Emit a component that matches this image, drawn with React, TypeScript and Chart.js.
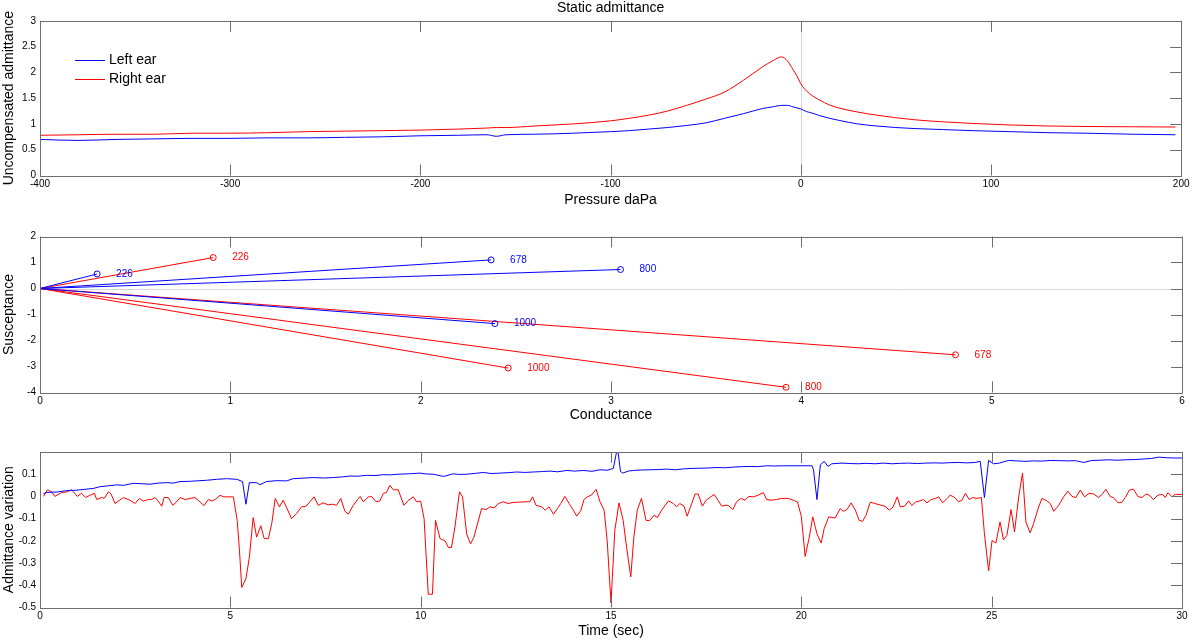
import React, { useEffect, useRef } from 'react'
import { Chart, registerables } from 'chart.js'

Chart.register(...registerables)

const FONT = "'Liberation Sans', Arial, Helvetica, sans-serif"
const RED = '#ff0000'
const BLUE = '#0000ff'
const FRAME = '#6e6e6e'

// --- Static admittance (tympanogram) ---
const pressure = [
  -400, -380, -360, -340, -320, -300, -280, -260, -240, -220,
  -200, -180, -165, -160, -155, -140, -120, -100, -90, -80,
  -70, -60, -50, -40, -30, -20, -15, -10, -7, -4,
  -2, 0, 3, 6, 10, 15, 20, 30, 40, 50,
  60, 75, 90, 110, 130, 150, 175, 197,
]
const leftEar = [
  0.70, 0.68, 0.70, 0.71, 0.72, 0.72, 0.73, 0.73, 0.74, 0.75,
  0.77, 0.78, 0.79, 0.76, 0.79, 0.80, 0.82, 0.85, 0.87, 0.90,
  0.93, 0.97, 1.02, 1.11, 1.20, 1.30, 1.33, 1.36, 1.36, 1.33,
  1.31, 1.29, 1.24, 1.21, 1.16, 1.11, 1.07, 1.00, 0.96, 0.93,
  0.91, 0.89, 0.87, 0.85, 0.83, 0.82, 0.80, 0.79,
]
const rightEar = [
  0.78, 0.79, 0.80, 0.80, 0.82, 0.82, 0.83, 0.85, 0.86, 0.87,
  0.88, 0.90, 0.92, 0.93, 0.93, 0.96, 1.00, 1.06, 1.11, 1.17,
  1.25, 1.36, 1.48, 1.62, 1.85, 2.11, 2.22, 2.30, 2.22, 2.05,
  1.93, 1.78, 1.64, 1.55, 1.46, 1.37, 1.31, 1.23, 1.17, 1.12,
  1.08, 1.04, 1.01, 0.98, 0.96, 0.95, 0.945, 0.94,
]
const pressureTicks = [-400, -300, -200, -100, 0, 100, 200]
const admittanceTicks = [0, 0.5, 1, 1.5, 2, 2.5, 3]

// --- Conductance / susceptance vectors ---
const frequencies = ['226', '678', '800', '1000']
const leftConductance = [0.30, 2.37, 3.05, 2.39]
const leftSusceptance = [0.56, 1.10, 0.73, -1.35]
const rightConductance = [0.91, 4.81, 3.92, 2.46]
const rightSusceptance = [1.19, -2.55, -3.80, -3.06]
const conductanceTicks = [0, 1, 2, 3, 4, 5, 6]
const susceptanceTicks = [-4, -3, -2, -1, 0, 1, 2]

// --- Admittance variation over time ---
const blueTime = [
  0.09, 0.17, 0.45, 0.7, 0.95, 1.23, 1.4, 1.58, 1.8, 2.01, 2.2, 2.45, 2.7, 2.89, 3.1, 3.33, 3.5, 3.68, 3.95, 4.2,
  4.4, 4.64, 4.9, 5.17, 5.32, 5.41, 5.5, 5.69, 5.78, 5.95, 6.22, 6.48, 6.65, 6.9, 7.18, 7.45, 7.71, 7.95, 8.14, 8.35,
  8.58, 8.8, 9.02, 9.2, 9.41, 9.7, 9.98, 10.15, 10.33, 10.6, 10.86, 11.0, 11.21, 11.45, 11.65, 11.85, 12.08, 12.3, 12.52, 12.75,
  12.96, 13.2, 13.4, 13.6, 13.84, 14.05, 14.27, 14.5, 14.71, 14.9, 15.06, 15.17, 15.25, 15.31, 15.45, 15.59, 15.8, 16.02, 16.25, 16.46,
  16.7, 16.9, 17.1, 17.34, 17.55, 17.78, 18.0, 18.21, 18.45, 18.65, 18.85, 19.09, 19.3, 19.53, 19.75, 19.96, 20.15, 20.28, 20.32, 20.41,
  20.5, 20.6, 20.7, 20.8, 21.07, 21.3, 21.5, 21.7, 21.94, 22.15, 22.38, 22.6, 22.82, 23.05, 23.26, 23.5, 23.69, 23.9, 24.13, 24.35,
  24.57, 24.7, 24.81, 24.92, 25.05, 25.2, 25.44, 25.65, 25.88, 26.1, 26.32, 26.55, 26.76, 27.0, 27.2, 27.42, 27.63, 27.85, 28.07, 28.3,
  28.51, 28.75, 28.95, 29.2, 29.39, 29.6, 29.82, 30.0,
]
const blueVariation = [
  0.012, 0.018, 0.02, 0.026, 0.028, 0.033, 0.036, 0.044, 0.048, 0.052, 0.05, 0.059, 0.057, 0.055, 0.06, 0.062, 0.06, 0.067, 0.068, 0.071,
  0.073, 0.077, 0.08, 0.077, 0.067, -0.035, 0.062, 0.062, 0.053, 0.067, 0.071, 0.07, 0.08, 0.082, 0.085, 0.083, 0.085, 0.088, 0.092, 0.091,
  0.095, 0.094, 0.098, 0.097, 0.1, 0.102, 0.105, 0.101, 0.1, 0.09, 0.102, 0.099, 0.1, 0.104, 0.108, 0.103, 0.105, 0.107, 0.11, 0.108,
  0.11, 0.112, 0.114, 0.111, 0.117, 0.114, 0.117, 0.113, 0.12, 0.118, 0.126, 0.22, 0.112, 0.105, 0.114, 0.117, 0.119, 0.12, 0.121, 0.123,
  0.12, 0.124, 0.126, 0.127, 0.128, 0.13, 0.129, 0.132, 0.134, 0.135, 0.134, 0.138, 0.137, 0.138, 0.138, 0.138, 0.138, 0.138, 0.12, -0.014,
  0.142, 0.158, 0.135, 0.147, 0.15, 0.148, 0.147, 0.149, 0.147, 0.15, 0.147, 0.149, 0.15, 0.148, 0.15, 0.151, 0.15, 0.152, 0.153, 0.151,
  0.153, 0.158, -0.005, 0.162, 0.147, 0.15, 0.162, 0.16, 0.158, 0.16, 0.159, 0.162, 0.161, 0.16, 0.161, 0.153, 0.162, 0.163, 0.165, 0.163,
  0.165, 0.166, 0.168, 0.171, 0.177, 0.174, 0.173, 0.173,
]
const redTime = [
  0.09, 0.2, 0.31, 0.39, 0.57, 0.7, 0.83, 0.98, 1.09, 1.2, 1.31, 1.43, 1.49, 1.62, 1.69, 1.8, 1.87, 1.97, 2.19, 2.36,
  2.5, 2.61, 2.71, 2.85, 2.93, 3.02, 3.1, 3.2, 3.26, 3.37, 3.49, 3.59, 3.68, 3.81, 3.94, 4.07, 4.2, 4.31, 4.42, 4.52,
  4.64, 4.73, 4.83, 5.08, 5.18, 5.24, 5.3, 5.41, 5.5, 5.6, 5.69, 5.8, 5.89, 6.0, 6.09, 6.18, 6.29, 6.39, 6.61, 6.74,
  6.87, 6.99, 7.09, 7.2, 7.31, 7.44, 7.57, 7.69, 7.79, 7.9, 8.01, 8.1, 8.23, 8.34, 8.41, 8.49, 8.63, 8.71, 8.83, 8.93,
  9.02, 9.1, 9.19, 9.28, 9.41, 9.56, 9.68, 9.81, 9.89, 10.0, 10.09, 10.2, 10.31, 10.39, 10.51, 10.64, 10.73, 10.81, 10.9, 11.02,
  11.1, 11.21, 11.31, 11.4, 11.6, 11.72, 11.82, 11.93, 12.04, 12.17, 12.3, 12.43, 12.57, 12.74, 12.87, 12.94, 13.03, 13.18, 13.27, 13.37,
  13.49, 13.59, 13.68, 13.79, 13.9, 14.01, 14.1, 14.21, 14.29, 14.38, 14.49, 14.61, 14.71, 14.82, 14.9, 15.0, 15.1, 15.21, 15.32, 15.41,
  15.52, 15.6, 15.69, 15.8, 15.92, 16.02, 16.13, 16.22, 16.33, 16.51, 16.64, 16.72, 16.81, 16.92, 17.0, 17.12, 17.21, 17.29, 17.4, 17.5,
  17.62, 17.71, 17.82, 17.91, 18.0, 18.08, 18.2, 18.3, 18.41, 18.52, 18.62, 18.74, 18.87, 19.0, 19.09, 19.22, 19.35, 19.48, 19.66, 19.83,
  19.9, 20.0, 20.1, 20.21, 20.3, 20.41, 20.52, 20.6, 20.72, 20.89, 21.02, 21.11, 21.2, 21.31, 21.42, 21.52, 21.61, 21.7, 21.81, 21.94,
  22.1, 22.2, 22.31, 22.41, 22.52, 22.6, 22.71, 22.82, 22.9, 23.01, 23.12, 23.21, 23.3, 23.41, 23.52, 23.61, 23.71, 23.83, 23.91, 24.03,
  24.13, 24.22, 24.31, 24.41, 24.5, 24.61, 24.73, 24.81, 24.92, 25.01, 25.11, 25.22, 25.31, 25.4, 25.51, 25.6, 25.71, 25.81, 25.9, 26.01,
  26.1, 26.22, 26.32, 26.45, 26.54, 26.63, 26.76, 26.89, 27.0, 27.11, 27.21, 27.33, 27.44, 27.56, 27.68, 27.81, 27.9, 28.0, 28.12, 28.2,
  28.32, 28.42, 28.51, 28.62, 28.73, 28.84, 28.95, 29.05, 29.14, 29.25, 29.37, 29.49, 29.56, 29.63, 29.74, 29.82, 30.0,
]
const redVariation = [
  0.0, 0.03, 0.02, 0.0, 0.018, 0.02, 0.03, 0.0, 0.014, -0.005, 0.005, 0.014, -0.014, -0.005, -0.008, 0.021, 0.01, -0.032, -0.005, -0.017,
  -0.032, -0.009, -0.021, -0.014, -0.014, -0.005, -0.02, -0.044, -0.005, -0.005, -0.04, -0.024, -0.005, -0.014, -0.009, -0.005, -0.024, -0.041, -0.014, -0.021,
  -0.009, 0.005, -0.002, -0.002, -0.108, -0.244, -0.41, -0.37, -0.274, -0.095, -0.183, -0.132, -0.19, -0.19, -0.12, -0.009, -0.047, -0.017, -0.1, -0.077,
  -0.047, -0.044, -0.024, -0.002, -0.04, -0.029, -0.038, -0.035, -0.04, -0.009, -0.067, -0.08, -0.04, -0.014, 0.0, -0.024, -0.002, 0.0, -0.024, -0.02,
  0.014, 0.017, 0.05, 0.03, 0.03, -0.04, -0.017, -0.002, -0.024, -0.021, -0.1, -0.44, -0.44, -0.108, -0.19, -0.2, -0.23, -0.23, -0.138, 0.021,
  -0.002, -0.17, -0.214, -0.183, -0.055, -0.059, -0.047, -0.052, -0.032, -0.024, -0.032, -0.027, -0.026, -0.024, -0.024, -0.002, -0.04, -0.047, -0.062, -0.047,
  -0.08, -0.055, -0.032, 0.0, -0.032, -0.062, -0.089, -0.062, -0.014, -0.002, 0.006, 0.032, -0.024, -0.062, -0.2, -0.48, -0.153, -0.029, -0.108, -0.229,
  -0.362, -0.183, -0.062, -0.009, -0.108, -0.108, -0.085, -0.095, -0.062, -0.02, -0.032, -0.047, -0.032, -0.044, -0.089, -0.032, 0.011, 0.011, -0.044, -0.017,
  -0.002, 0.009, -0.02, -0.044, -0.04, -0.04, -0.059, -0.024, -0.009, -0.017, 0.0, -0.002, 0.006, 0.017, -0.014, -0.017, -0.014, -0.009, -0.009, -0.02,
  -0.025, -0.09, -0.27, -0.183, -0.092, -0.168, -0.21, -0.145, -0.092, -0.097, -0.055, -0.067, -0.059, -0.029, -0.062, -0.108, -0.112, -0.085, -0.026, -0.032,
  -0.04, -0.044, -0.062, -0.047, -0.002, -0.047, -0.044, -0.02, -0.041, -0.024, -0.02, -0.014, -0.029, -0.014, -0.009, -0.002, -0.029, -0.009, 0.006, -0.005,
  -0.024, -0.017, 0.014, -0.014, -0.005, -0.009, -0.005, -0.168, -0.335, -0.198, -0.21, -0.115, -0.195, -0.176, -0.059, -0.16, -0.002, 0.105, -0.115, -0.164,
  -0.123, -0.055, -0.009, -0.02, -0.032, -0.067, -0.04, -0.002, 0.024, 0.0, -0.005, 0.029, -0.002, 0.014, 0.011, -0.005, 0.009, 0.032, -0.002, -0.005,
  -0.029, -0.026, -0.005, 0.029, 0.032, 0.0, -0.005, 0.011, 0.006, -0.014, 0.006, 0.009, -0.005, 0.017, -0.002, 0.009, 0.009,
]
const timeTicks = [0, 5, 10, 15, 20, 25, 30]
const variationTicks = [-0.5, -0.4, -0.3, -0.2, -0.1, 0, 0.1]

const zip = (xs: number[], ys: number[]) => xs.map((x, i) => ({ x, y: ys[i] }))

// MATLAB-like box: inward ticks top/bottom and right, plus zero reference line
const framePlugin = {
  id: 'matlabFrame',
  beforeDatasetsDraw(chart: any, _args: any, opts: any) {
    const { ctx, chartArea: a, scales } = chart
    ctx.save()
    ctx.strokeStyle = '#d6d6d6'
    ctx.lineWidth = 1
    ctx.beginPath()
    if (opts.zeroX) {
      const px = Math.round(scales.x.getPixelForValue(0)) + 0.5
      ctx.moveTo(px, a.top)
      ctx.lineTo(px, a.bottom)
    }
    if (opts.zeroY) {
      const py = Math.round(scales.y.getPixelForValue(0)) + 0.5
      ctx.moveTo(a.left, py)
      ctx.lineTo(a.right, py)
    }
    ctx.stroke()
    ctx.restore()
  },
  afterDatasetsDraw(chart: any) {
    const { ctx, chartArea: a, scales } = chart
    const len = 11
    ctx.save()
    ctx.strokeStyle = FRAME
    ctx.lineWidth = 1
    ctx.beginPath()
    scales.x.ticks.forEach((t: any) => {
      const px = Math.round(scales.x.getPixelForValue(t.value)) + 0.5
      ctx.moveTo(px, a.top)
      ctx.lineTo(px, a.top + len)
      ctx.moveTo(px, a.bottom)
      ctx.lineTo(px, a.bottom - len)
    })
    scales.y.ticks.forEach((t: any) => {
      const py = Math.round(scales.y.getPixelForValue(t.value)) + 0.5
      ctx.moveTo(a.right, py)
      ctx.lineTo(a.right - len, py)
    })
    ctx.stroke()
    const l = Math.round(a.left) + 0.5
    const tp = Math.round(a.top) + 0.5
    ctx.strokeRect(l, tp, Math.round(a.right) - Math.round(a.left), Math.round(a.bottom) - Math.round(a.top))
    ctx.restore()
  },
}

const earLegendPlugin = {
  id: 'earLegend',
  afterDatasetsDraw(chart: any) {
    const { ctx, chartArea: a } = chart
    ctx.save()
    ctx.font = `14px ${FONT}`
    ctx.textBaseline = 'middle'
    ctx.textAlign = 'left'
    chart.data.datasets.forEach((ds: any, i: number) => {
      const y = Math.round(a.top + 39 + i * 19) + 0.5
      const x0 = a.left + 35
      ctx.strokeStyle = ds.borderColor
      ctx.lineWidth = 1
      ctx.beginPath()
      ctx.moveTo(x0, y)
      ctx.lineTo(x0 + 30, y)
      ctx.stroke()
      ctx.fillStyle = '#000'
      ctx.fillText(ds.label, x0 + 34, y)
    })
    ctx.restore()
  },
}

const freqLabelPlugin = {
  id: 'freqLabels',
  afterDatasetsDraw(chart: any) {
    const { ctx } = chart
    ctx.save()
    ctx.font = `10px ${FONT}`
    ctx.textBaseline = 'middle'
    ctx.textAlign = 'left'
    chart.data.datasets.forEach((ds: any, i: number) => {
      const pt = chart.getDatasetMeta(i).data[1]
      ctx.fillStyle = ds.borderColor
      ctx.fillText(ds.label, pt.x + 19, pt.y)
    })
    ctx.restore()
  },
}

const tickFont = { size: 10, family: FONT }
const titleFont = { size: 14, family: FONT }

const xAxis = (min: number, max: number, values: number[], text: string, height: number, pad: number) => ({
  type: 'linear',
  position: 'bottom',
  min,
  max,
  afterBuildTicks: (s: any) => { s.ticks = values.map((value) => ({ value })) },
  afterFit: (s: any) => { s.height = height },
  grid: { display: false, drawTicks: false },
  border: { display: false },
  ticks: { padding: 2.5, font: tickFont, color: '#000', maxRotation: 0, autoSkip: false, callback: (v: number) => String(v) },
  title: { display: true, text, font: titleFont, color: '#000', padding: { top: 0, bottom: pad } },
})

const yAxis = (min: number, max: number, values: number[], text: string) => ({
  type: 'linear',
  position: 'left',
  min,
  max,
  afterBuildTicks: (s: any) => { s.ticks = values.map((value) => ({ value })) },
  afterFit: (s: any) => { s.width = 40 },
  grid: { display: false, drawTicks: false },
  border: { display: false },
  ticks: { padding: 4, font: tickFont, color: '#000', autoSkip: false, callback: (v: number) => String(v) },
  title: { display: true, text, font: titleFont, color: '#000', padding: { top: 1, bottom: 0 } },
})

const baseOptions = (top: number) => ({
  responsive: false,
  animation: false,
  events: [],
  layout: { padding: { left: 0, right: 10, top, bottom: 0 } },
})

const line = (label: string, color: string, data: any[], extra: any = {}) => ({
  label,
  data,
  borderColor: color,
  backgroundColor: color,
  borderWidth: 1,
  showLine: true,
  pointRadius: 0,
  fill: false,
  ...extra,
})

const staticConfig = () => ({
  type: 'scatter',
  data: {
    datasets: [
      line('Left ear', BLUE, zip(pressure, leftEar), { cubicInterpolationMode: 'monotone' }),
      line('Right ear', RED, zip(pressure, rightEar), { cubicInterpolationMode: 'monotone' }),
    ],
  },
  options: {
    ...baseOptions(0),
    scales: {
      x: xAxis(-400, 200, pressureTicks, 'Pressure daPa', 39.5, 6.6),
      y: yAxis(0, 3, admittanceTicks, 'Uncompensated admittance'),
    },
    plugins: {
      legend: { display: false },
      tooltip: { enabled: false },
      title: {
        display: true,
        text: 'Static admittance',
        fullSize: false,
        color: '#000',
        font: { size: 14, family: FONT, weight: 'normal' },
        padding: { top: 0, bottom: 4 },
      },
      matlabFrame: { zeroX: true },
    },
  },
  plugins: [framePlugin, earLegendPlugin],
})

const vectors = (g: number[], b: number[], color: string) =>
  frequencies.map((f, i) =>
    line(f, color, [{ x: 0, y: 0 }, { x: g[i], y: b[i] }], {
      pointRadius: [0, 3],
      pointBorderColor: color,
      pointBackgroundColor: 'rgba(0,0,0,0)',
      pointBorderWidth: 1,
    }),
  )

const vectorConfig = () => ({
  type: 'scatter',
  data: {
    datasets: [
      ...vectors(leftConductance, leftSusceptance, BLUE),
      ...vectors(rightConductance, rightSusceptance, RED),
    ],
  },
  options: {
    ...baseOptions(21.5),
    scales: {
      x: xAxis(0, 6, conductanceTicks, 'Conductance', 37.5, 6.4),
      y: yAxis(-4, 2, susceptanceTicks, 'Susceptance'),
    },
    plugins: {
      legend: { display: false },
      tooltip: { enabled: false },
      matlabFrame: { zeroY: true },
    },
  },
  plugins: [framePlugin, freqLabelPlugin],
})

const variationConfig = () => ({
  type: 'scatter',
  data: {
    datasets: [
      line('Left ear', BLUE, zip(blueTime, blueVariation)),
      line('Right ear', RED, zip(redTime, redVariation)),
    ],
  },
  options: {
    ...baseOptions(22),
    scales: {
      x: xAxis(0, 30, timeTicks, 'Time (sec)', 32.5, 0.6),
      y: yAxis(-0.5, 0.2, variationTicks, 'Admittance variation'),
    },
    plugins: {
      legend: { display: false },
      tooltip: { enabled: false },
      matlabFrame: {},
    },
  },
  plugins: [framePlugin],
})

const Panel = ({ config, top, height }: { config: () => any; top: number; height: number }) => {
  const ref = useRef<HTMLCanvasElement | null>(null)

  useEffect(() => {
    let chart: Chart | undefined
    if (ref.current !== null) {
      chart = new Chart(ref.current, config())
    }
    return () => {
      if (chart) chart.destroy()
    }
  }, [])

  return (
    <canvas
      ref={ref}
      width={1192}
      height={height}
      style={{ position: 'absolute', left: 0, top, width: 1192, height }}
    />
  )
}

export default function App() {
  return (
    <div style={{ position: 'absolute', left: 0, top: 0, width: 1192, height: 640, background: '#fff' }}>
      <Panel config={staticConfig} top={0} height={215} />
      <Panel config={vectorConfig} top={215} height={215} />
      <Panel config={variationConfig} top={430} height={210} />
    </div>
  )
}
